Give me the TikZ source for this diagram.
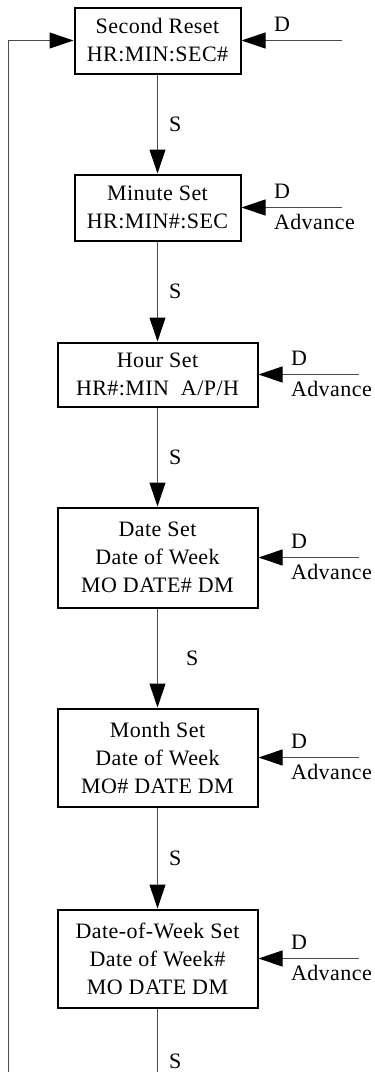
\documentclass[tikz,border=0pt]{standalone}
\usepackage{fontspec}
\setmainfont[LetterSpace=2.0]{Liberation Serif}
\usetikzlibrary{arrows.meta}

\begin{document}
\begin{tikzpicture}[x=0.5pt, y=-0.5pt,
    every node/.style={font=\fontsize{11}{14}\selectfont, align=center},
    setbox/.style={rectangle, draw=black, line width=1pt, inner sep=0pt,
                   minimum width=#1},
    setbox/.default=100pt,
    arr/.style={-{Triangle[length=12pt, width=8pt, color=black]}, line width=0.5pt, black!70},
    line/.style={line width=0.5pt, black!70},
    slab/.style={right, inner sep=0pt, xshift=#1, text=black},
    slab/.default=5.5pt,
    dlab/.style={pos=0.68, anchor=south west, inner sep=0pt, yshift=4pt, text=black},
    alab/.style={pos=0.68, anchor=north west, inner sep=0pt, yshift=-3pt, text=black},
]
\useasboundingbox (0,0) rectangle (375,1072);
% setting states
\node[setbox=83pt, minimum height=33pt] (sec)  at (157.5, 40.5)  {Second Reset \\ HR:MIN:SEC\#};
\node[setbox=83pt, minimum height=33pt] (min)  at (157.5, 207.5) {Minute Set \\ HR:MIN\#:SEC};
\node[setbox, minimum height=32pt]      (hour) at (157.5, 374.5) {Hour Set \\ HR\#:MIN~~A/P/H};
\node[setbox, minimum height=50pt]      (date) at (157.5, 557.5) {Date Set \\ Date of Week \\ MO DATE\# DM};
\node[setbox, minimum height=49pt]      (mon)  at (157.5, 757.5) {Month Set \\ Date of Week \\ MO\# DATE DM};
\node[setbox, minimum height=49pt]      (dow)  at (157.5, 958.5) {Date-of-Week Set \\ Date of Week\# \\ MO DATE DM};
% free ends
\coordinate (dsec)  at ([xshift=50pt]sec.east);
\coordinate (dmin)  at ([xshift=50pt]min.east);
\coordinate (dhour) at ([xshift=50pt]hour.east);
\coordinate (ddate) at ([xshift=50pt]date.east);
\coordinate (dmon)  at ([xshift=50pt]mon.east);
\coordinate (ddow)  at ([xshift=50pt]dow.east);
\coordinate (sbot)  at (157.5, 1072);
\coordinate (lbot)  at (8, 1072);
% S: next state
\draw[arr] (sec)  -- node[slab]{S} (min);
\draw[arr] (min)  -- node[slab]{S} (hour);
\draw[arr] (hour) -- node[slab]{S} (date);
\draw[arr] (date) -- node[slab=14pt]{S} (mon);
\draw[arr] (mon)  -- node[slab]{S} (dow);
\draw[line] (dow) -- node[slab, pos=0.83]{S} (sbot);
\draw[arr] (lbot) |- (sec.west);
% D: advance
\draw[arr] (dsec)  -- node[dlab]{D} (sec.east);
\draw[arr] (dmin)  -- node[dlab]{D} node[alab]{Advance} (min.east);
\draw[arr] (dhour) -- node[dlab]{D} node[alab]{Advance} (hour.east);
\draw[arr] (ddate) -- node[dlab]{D} node[alab]{Advance} (date.east);
\draw[arr] (dmon)  -- node[dlab]{D} node[alab]{Advance} (mon.east);
\draw[arr] (ddow)  -- node[dlab]{D} node[alab]{Advance} (dow.east);
\end{tikzpicture}
\end{document}
